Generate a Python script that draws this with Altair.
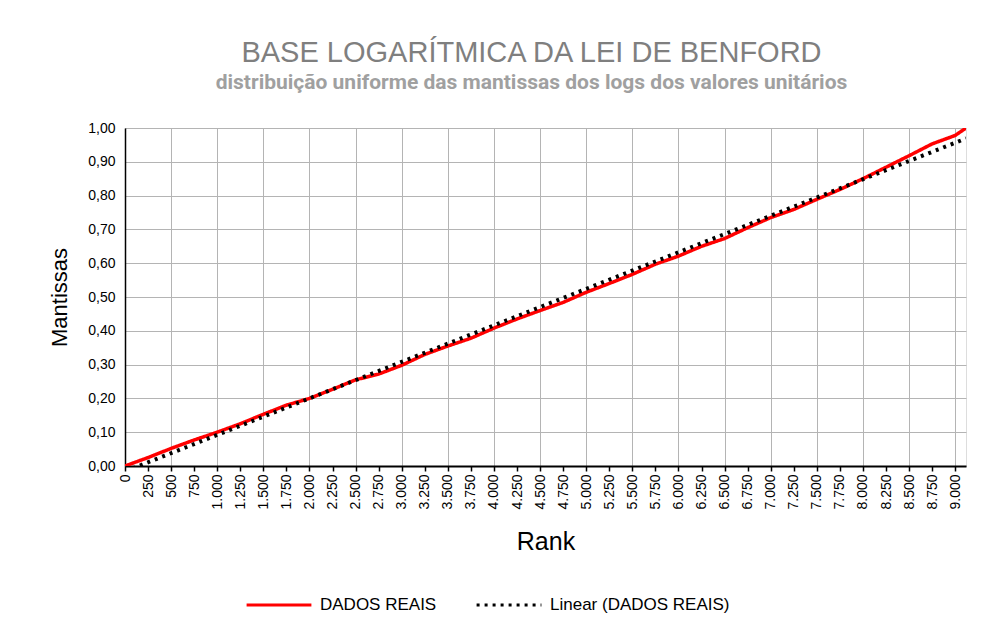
import altair as alt
import pandas as pd

# Rank positions sampled along the sorted data
ranks = [0, 250, 500, 750, 1000, 1250, 1500, 1750, 2000, 2250, 2500, 2750,
         3000, 3250, 3500, 3750, 4000, 4250, 4500, 4750, 5000, 5250, 5500,
         5750, 6000, 6250, 6500, 6750, 7000, 7250, 7500, 7750, 8000, 8250,
         8500, 8750, 9000, 9117]

# Mantissas of the logs
mantissas = [0.000, 0.025, 0.052, 0.077, 0.100, 0.125, 0.153, 0.180, 0.200,
             0.227, 0.255, 0.272, 0.298, 0.330, 0.355, 0.378, 0.408, 0.435,
             0.460, 0.484, 0.514, 0.540, 0.567, 0.597, 0.621, 0.650, 0.673,
             0.705, 0.735, 0.759, 0.789, 0.818, 0.850, 0.884, 0.918, 0.953,
             0.978, 1.000]

x_ticks = list(range(0, 9001, 250))
y_ticks = [0.0, 0.1, 0.2, 0.3, 0.4, 0.5, 0.6, 0.7, 0.8, 0.9, 1.0]
series_names = ["DADOS REAIS", "Linear (DADOS REAIS)"]
series_colors = ["#ff0000", "#000000"]

df = pd.DataFrame({"rank": ranks, "mantissa": mantissas})

FONT = "Liberation Sans"

x_enc = alt.X(
    "rank:Q",
    scale=alt.Scale(domain=[0, 9117], nice=False, zero=False),
    axis=alt.Axis(
        title="Rank",
        values=x_ticks,
        labelAngle=-90,
        labelAlign="right",
        labelBaseline="middle",
        labelExpr="replace(format(datum.value, ','), ',', '.')",
        labelFont=FONT,
        labelFontSize=14,
        labelColor="#000000",
        labelPadding=3,
        labelOverlap=False,
        tickColor="#000000",
        tickSize=5,
        tickWidth=1.5,
        domainColor="#000000",
        domainWidth=2,
        grid=True,
        gridColor="#b4b4b4",
        gridWidth=1,
        gridOpacity={"condition": {"test": "datum.value % 500 === 0", "value": 1}, "value": 0},
        titleFont=FONT,
        titleFontSize=25,
        titleFontWeight="normal",
        titleColor="#000000",
        titlePadding=20,
    ),
)

y_enc = alt.Y(
    "mantissa:Q",
    scale=alt.Scale(domain=[0, 1], nice=False),
    axis=alt.Axis(
        title="Mantissas",
        values=y_ticks,
        labelExpr="replace(format(datum.value, '.2f'), '.', ',')",
        labelFont=FONT,
        labelFontSize=14,
        labelColor="#000000",
        labelPadding=10,
        ticks=False,
        domainColor="#000000",
        domainWidth=1.5,
        grid=True,
        gridColor="#b4b4b4",
        gridWidth=1,
        titleFont=FONT,
        titleFontSize=22,
        titleFontWeight="normal",
        titleColor="#000000",
        titlePadding=16,
    ),
)

color_enc = alt.Color(
    "serie:N",
    scale=alt.Scale(domain=series_names, range=series_colors),
    legend=alt.Legend(
        title=None,
        orient="none",
        legendX=120,
        legendY=443,
        direction="horizontal",
        symbolType="stroke",
        symbolSize=4200,
        symbolStrokeWidth=3,
        labelFont=FONT,
        labelFontSize=17,
        labelColor="#000000",
        labelOffset=7,
        labelLimit=400,
        columnPadding=33,
    ),
)
dash_enc = alt.StrokeDash(
    "serie:N",
    scale=alt.Scale(domain=series_names, range=[[1, 0], [3, 5]]),
    legend=None,
)

base = alt.Chart(df)

real = base.transform_calculate(serie='"DADOS REAIS"').mark_line(
    strokeWidth=3.5, clip=True
).encode(x=x_enc, y=y_enc, color=color_enc, strokeDash=dash_enc)

trend = base.transform_regression(
    "rank", "mantissa", method="linear"
).transform_calculate(serie='"Linear (DADOS REAIS)"').mark_line(
    strokeWidth=4, clip=True
).encode(x=x_enc, y=y_enc, color=color_enc, strokeDash=dash_enc)

chart = alt.layer(real, trend).properties(
    width=841,
    height=338,
    autosize=alt.AutoSizeParams(type="none"),
    padding={"left": 117, "top": 120, "right": 8, "bottom": 150},
    title=alt.TitleParams(
        text="BASE LOGARÍTMICA DA LEI DE BENFORD",
        subtitle="distribuição uniforme das mantissas dos logs dos valores unitários",
        anchor="middle",
        dx=-14,
        offset=28,
        font=FONT,
        fontSize=29,
        fontWeight="normal",
        color="#7f7f7f",
        subtitleFont="Roboto",
        subtitleFontSize=21,
        subtitleFontWeight="bold",
        subtitleColor="#a0a0a0",
        subtitlePadding=4,
    ),
).configure_view(stroke="#595959", strokeWidth=1).configure(background="white")

chart.save("out.html", embed_options={"renderer": "svg", "actions": False})
